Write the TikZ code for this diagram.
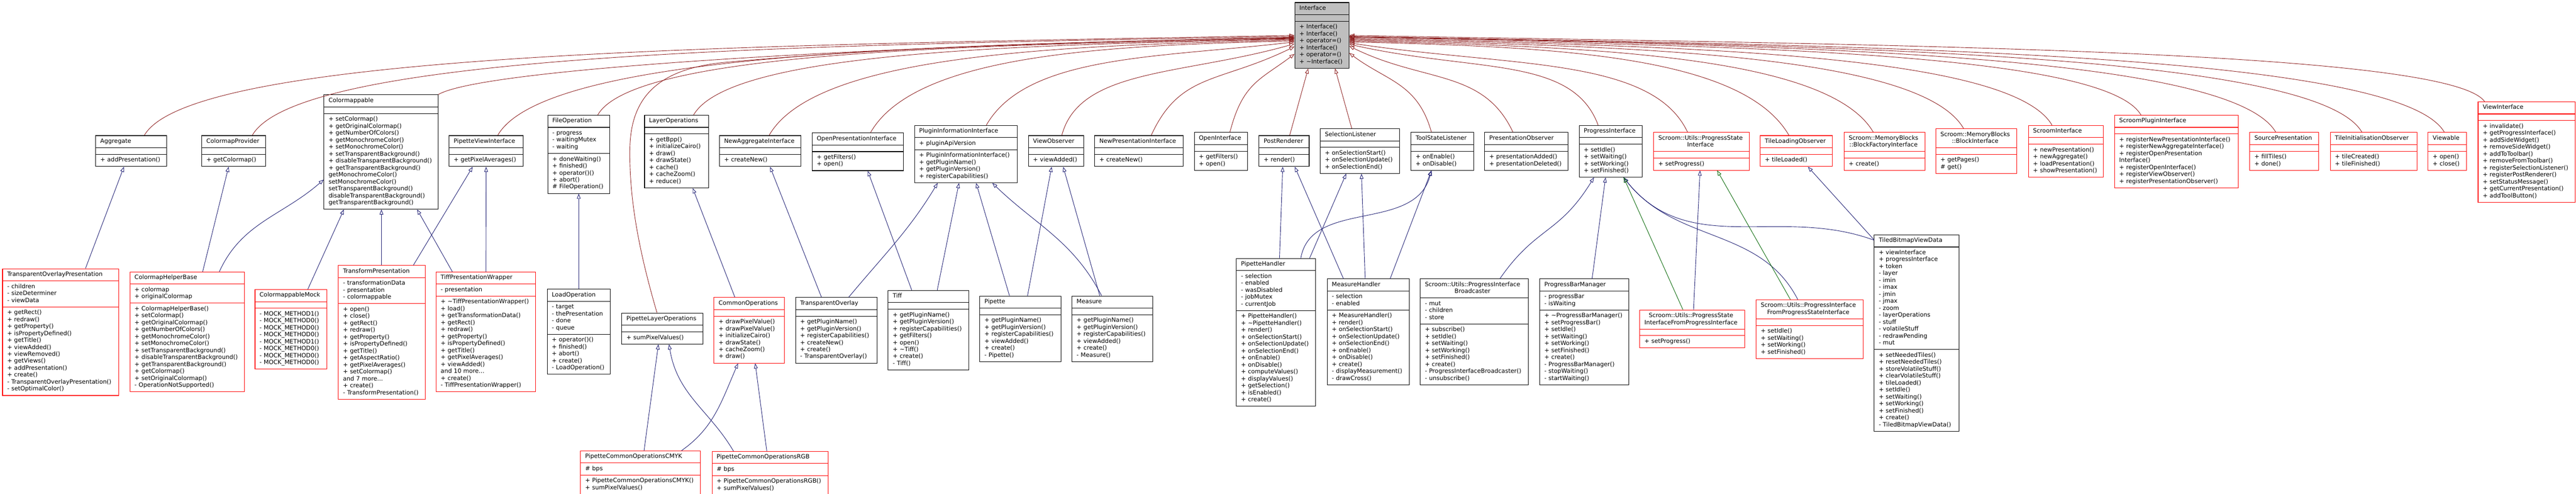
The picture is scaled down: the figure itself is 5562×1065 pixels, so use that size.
\documentclass[tikz,border=0pt]{standalone}
\usepackage{fontspec}
\setmainfont{DejaVu Sans}
\usetikzlibrary{shapes.multipart,arrows.meta}

\definecolor{privred}{HTML}{8B1A1A}
\definecolor{pubblue}{HTML}{191970}
\definecolor{protgreen}{HTML}{006400}

\newcommand{\umlfont}{\fontsize{12.8}{15}\selectfont}
\newcommand{\clsname}[1]{\noindent\centering\begin{tabular}{@{}c@{}}#1\end{tabular}}
\newcommand{\clsmembers}[1]{\noindent\begin{tabular}{@{}l@{}}#1\end{tabular}}

\begin{document}
\begin{tikzpicture}[x=1pt,y=1pt,
    cls/.style={rectangle split, rectangle split parts=3, draw=black, line width=1.2pt,
      anchor=north west, inner xsep=10pt, inner ysep=5pt, font=\umlfont, align=left},
    clsred/.style={cls, draw=red},
    pub/.style={draw=pubblue, line width=1pt, -{Triangle[open,length=11pt,width=8pt]}},
    prot/.style={pub, draw=protgreen},
    priv/.style={pub, draw=privred}]
    \useasboundingbox (0,0) rectangle (5562,-1065);

    % Base class
    \node[cls, fill=gray!50, text width=97pt] (iface) at (2795,-5)
      {\clsname{Interface}\nodepart{two}\clsmembers{}\nodepart{three}\clsmembers{+ Interface()\\+ Interface()\\+ operator=()\\+ Interface()\\+ operator=()\\+ \textasciitilde Interface()}};

    % Direct subclasses
    \node[cls, text width=133pt] (agg) at (206,-292)
      {\clsname{Aggregate}\nodepart{two}\clsmembers{}\nodepart{three}\clsmembers{+ addPresentation()}};
    \node[cls, text width=118pt] (cmprov) at (435,-292)
      {\clsname{ColormapProvider}\nodepart{two}\clsmembers{}\nodepart{three}\clsmembers{+ getColormap()}};
    \node[cls, text width=226pt] (cmapp) at (699,-204)
      {\clsname{Colormappable}\nodepart{two}\clsmembers{}\nodepart{three}\clsmembers{+ setColormap()\\+ getOriginalColormap()\\+ getNumberOfColors()\\+ getMonochromeColor()\\+ setMonochromeColor()\\+ setTransparentBackground()\\+ disableTransparentBackground()\\+ getTransparentBackground()\\* getMonochromeColor()\\* setMonochromeColor()\\* setTransparentBackground()\\* disableTransparentBackground()\\* getTransparentBackground()}};
    \node[cls, text width=140pt] (pvi) at (969,-292)
      {\clsname{PipetteViewInterface}\nodepart{two}\clsmembers{}\nodepart{three}\clsmembers{+ getPixelAverages()}};
    \node[cls, text width=114pt] (fileop) at (1182,-248)
      {\clsname{FileOperation}\nodepart{two}\clsmembers{- progress\\- waitingMutex\\- waiting}\nodepart{three}\clsmembers{+ doneWaiting()\\+ finished()\\+ operator()()\\+ abort()\\\# FileOperation()}};
    \node[cls, text width=118pt] (layerop) at (1391,-248)
      {\clsname{LayerOperations}\nodepart{two}\clsmembers{}\nodepart{three}\clsmembers{+ getBpp()\\+ initializeCairo()\\+ draw()\\+ drawState()\\+ cache()\\+ cacheZoom()\\+ reduce()}};
    \node[cls, text width=156pt] (newagg) at (1553,-292)
      {\clsname{NewAggregateInterface}\nodepart{two}\clsmembers{}\nodepart{three}\clsmembers{+ createNew()}};
    \node[cls, text width=177pt] (openpres) at (1753,-286)
      {\clsname{OpenPresentationInterface}\nodepart{two}\clsmembers{}\nodepart{three}\clsmembers{+ getFilters()\\+ open()}};
    \node[cls, text width=202pt] (pluginfo) at (1974,-270)
      {\clsname{PluginInformationInterface}\nodepart{two}\clsmembers{+ pluginApiVersion}\nodepart{three}\clsmembers{+ PluginInformationInterface()\\+ getPluginName()\\+ getPluginVersion()\\+ registerCapabilities()}};
    \node[cls, text width=99pt] (viewobs) at (2220,-292)
      {\clsname{ViewObserver}\nodepart{two}\clsmembers{}\nodepart{three}\clsmembers{+ viewAdded()}};
    \node[cls, text width=171pt] (newpres) at (2363,-292)
      {\clsname{NewPresentationInterface}\nodepart{two}\clsmembers{}\nodepart{three}\clsmembers{+ createNew()}};
    \node[cls, text width=95pt] (openif) at (2578,-285)
      {\clsname{OpenInterface}\nodepart{two}\clsmembers{}\nodepart{three}\clsmembers{+ getFilters()\\+ open()}};
    \node[cls, text width=88pt] (postrend) at (2718,-292)
      {\clsname{PostRenderer}\nodepart{two}\clsmembers{}\nodepart{three}\clsmembers{+ render()}};
    \node[cls, text width=151pt] (sellist) at (2850,-277)
      {\clsname{SelectionListener}\nodepart{two}\clsmembers{}\nodepart{three}\clsmembers{+ onSelectionStart()\\+ onSelectionUpdate()\\+ onSelectionEnd()}};
    \node[cls, text width=115pt] (toolstate) at (3046,-285)
      {\clsname{ToolStateListener}\nodepart{two}\clsmembers{}\nodepart{three}\clsmembers{+ onEnable()\\+ onDisable()}};
    \node[cls, text width=160pt] (presobs) at (3205,-285)
      {\clsname{PresentationObserver}\nodepart{two}\clsmembers{}\nodepart{three}\clsmembers{+ presentationAdded()\\+ presentationDeleted()}};
    \node[cls, text width=116pt] (progif) at (3409,-270)
      {\clsname{ProgressInterface}\nodepart{two}\clsmembers{}\nodepart{three}\clsmembers{+ setIdle()\\+ setWaiting()\\+ setWorking()\\+ setFinished()}};
    \node[clsred, text width=187pt] (progstate) at (3570,-285)
      {\clsname{Scroom::Utils::ProgressState\\Interface}\nodepart{two}\clsmembers{}\nodepart{three}\clsmembers{+ setProgress()}};
    \node[clsred, text width=136pt] (tileload) at (3800,-292)
      {\clsname{TileLoadingObserver}\nodepart{two}\clsmembers{}\nodepart{three}\clsmembers{+ tileLoaded()}};
    \node[clsred, text width=155pt] (blockfact) at (3981,-285)
      {\clsname{Scroom::MemoryBlocks\\::BlockFactoryInterface}\nodepart{two}\clsmembers{}\nodepart{three}\clsmembers{+ create()}};
    \node[clsred, text width=155pt] (blockif) at (4179,-277)
      {\clsname{Scroom::MemoryBlocks\\::BlockInterface}\nodepart{two}\clsmembers{}\nodepart{three}\clsmembers{+ getPages()\\\# get()}};
    \node[clsred, text width=142pt] (scroomif) at (4379,-270)
      {\clsname{ScroomInterface}\nodepart{two}\clsmembers{}\nodepart{three}\clsmembers{+ newPresentation()\\+ newAggregate()\\+ loadPresentation()\\+ showPresentation()}};
    \node[clsred, text width=247pt] (pluginif) at (4565,-248)
      {\clsname{ScroomPluginInterface}\nodepart{two}\clsmembers{}\nodepart{three}\clsmembers{+ registerNewPresentationInterface()\\+ registerNewAggregateInterface()\\+ registerOpenPresentation\\Interface()\\+ registerOpenInterface()\\+ registerViewObserver()\\+ registerPresentationObserver()}};
    \node[clsred, text width=129pt] (srcpres) at (4857,-285)
      {\clsname{SourcePresentation}\nodepart{two}\clsmembers{}\nodepart{three}\clsmembers{+ fillTiles()\\+ done()}};
    \node[clsred, text width=167pt] (tileinit) at (5031,-285)
      {\clsname{TileInitialisationObserver}\nodepart{two}\clsmembers{}\nodepart{three}\clsmembers{+ tileCreated()\\+ tileFinished()}};
    \node[clsred, text width=63pt] (viewable) at (5242,-285)
      {\clsname{Viewable}\nodepart{two}\clsmembers{}\nodepart{three}\clsmembers{+ open()\\+ close()}};
    \node[clsred, text width=190pt] (viewif) at (5350,-219)
      {\clsname{ViewInterface}\nodepart{two}\clsmembers{}\nodepart{three}\clsmembers{+ invalidate()\\+ getProgressInterface()\\+ addSideWidget()\\+ removeSideWidget()\\+ addToToolbar()\\+ removeFromToolbar()\\+ registerSelectionListener()\\+ registerPostRenderer()\\+ setStatusMessage()\\+ getCurrentPresentation()\\+ addToolButton()}};

    % Second level
    \node[clsred, text width=231pt] (topres) at (5,-579)
      {\clsname{TransparentOverlayPresentation}\nodepart{two}\clsmembers{- children\\- sizeDeterminer\\- viewData}\nodepart{three}\clsmembers{+ getRect()\\+ redraw()\\+ getProperty()\\+ isPropertyDefined()\\+ getTitle()\\+ viewAdded()\\+ viewRemoved()\\+ getViews()\\+ addPresentation()\\+ create()\\- TransparentOverlayPresentation()\\- setOptimalColor()}};
    \node[clsred, text width=227pt] (cmhelper) at (280,-586)
      {\clsname{ColormapHelperBase}\nodepart{two}\clsmembers{+ colormap\\+ originalColormap}\nodepart{three}\clsmembers{+ ColormapHelperBase()\\+ setColormap()\\+ getOriginalColormap()\\+ getNumberOfColors()\\+ getMonochromeColor()\\+ setMonochromeColor()\\+ setTransparentBackground()\\+ disableTransparentBackground()\\+ getTransparentBackground()\\+ getColormap()\\+ setOriginalColormap()\\- OperationNotSupported()}};
    \node[clsred, text width=135pt] (cmmock) at (550,-624)
      {\clsname{ColormappableMock}\nodepart{two}\clsmembers{}\nodepart{three}\clsmembers{- MOCK\_METHOD1()\\- MOCK\_METHOD0()\\- MOCK\_METHOD0()\\- MOCK\_METHOD0()\\- MOCK\_METHOD1()\\- MOCK\_METHOD0()\\- MOCK\_METHOD0()\\- MOCK\_METHOD0()}};
    \node[clsred, text width=168pt] (transpres) at (730,-572)
      {\clsname{TransformPresentation}\nodepart{two}\clsmembers{- transformationData\\- presentation\\- colormappable}\nodepart{three}\clsmembers{+ open()\\+ close()\\+ getRect()\\+ redraw()\\+ getProperty()\\+ isPropertyDefined()\\+ getTitle()\\+ getAspectRatio()\\+ getPixelAverages()\\+ setColormap()\\and 7 more...\\+ create()\\- TransformPresentation()}};
    \node[clsred, text width=195pt] (tiffwrap) at (941,-586)
      {\clsname{TiffPresentationWrapper}\nodepart{two}\clsmembers{- presentation}\nodepart{three}\clsmembers{+ \textasciitilde TiffPresentationWrapper()\\+ load()\\+ getTransformationData()\\+ getRect()\\+ redraw()\\+ getProperty()\\+ isPropertyDefined()\\+ getTitle()\\+ getPixelAverages()\\+ viewAdded()\\and 10 more...\\+ create()\\- TiffPresentationWrapper()}};
    \node[cls, text width=116pt] (loadop) at (1181,-623)
      {\clsname{LoadOperation}\nodepart{two}\clsmembers{- target\\- thePresentation\\- done\\- queue}\nodepart{three}\clsmembers{+ operator()()\\+ finished()\\+ abort()\\+ create()\\- LoadOperation()}};
    \node[cls, text width=155pt] (pipelayer) at (1342,-675)
      {\clsname{PipetteLayerOperations}\nodepart{two}\clsmembers{}\nodepart{three}\clsmembers{+ sumPixelValues()}};
    \node[clsred, text width=132pt] (commonop) at (1541,-641)
      {\clsname{CommonOperations}\nodepart{two}\clsmembers{}\nodepart{three}\clsmembers{+ drawPixelValue()\\+ drawPixelValue()\\+ initializeCairo()\\+ drawState()\\+ cacheZoom()\\+ draw()}};
    \node[cls, text width=156pt] (toverlay) at (1717,-641)
      {\clsname{TransparentOverlay}\nodepart{two}\clsmembers{}\nodepart{three}\clsmembers{+ getPluginName()\\+ getPluginVersion()\\+ registerCapabilities()\\+ createNew()\\+ create()\\- TransparentOverlay()}};
    \node[cls, text width=154pt] (tiff) at (1917,-626)
      {\clsname{Tiff}\nodepart{two}\clsmembers{}\nodepart{three}\clsmembers{+ getPluginName()\\+ getPluginVersion()\\+ registerCapabilities()\\+ getFilters()\\+ open()\\+ \textasciitilde Tiff()\\+ create()\\- Tiff()}};
    \node[cls, text width=155pt] (pipette) at (2115,-638)
      {\clsname{Pipette}\nodepart{two}\clsmembers{}\nodepart{three}\clsmembers{+ getPluginName()\\+ getPluginVersion()\\+ registerCapabilities()\\+ viewAdded()\\+ create()\\- Pipette()}};
    \node[cls, text width=154pt] (measure) at (2314,-638)
      {\clsname{Measure}\nodepart{two}\clsmembers{}\nodepart{three}\clsmembers{+ getPluginName()\\+ getPluginVersion()\\+ registerCapabilities()\\+ viewAdded()\\+ create()\\- Measure()}};
    \node[cls, text width=151pt] (pipehandler) at (2669,-557)
      {\clsname{PipetteHandler}\nodepart{two}\clsmembers{- selection\\- enabled\\- wasDisabled\\- jobMutex\\- currentJob}\nodepart{three}\clsmembers{+ PipetteHandler()\\+ \textasciitilde PipetteHandler()\\+ render()\\+ onSelectionStart()\\+ onSelectionUpdate()\\+ onSelectionEnd()\\+ onEnable()\\+ onDisable()\\+ computeValues()\\+ displayValues()\\+ getSelection()\\+ isEnabled()\\+ create()}};
    \node[cls, text width=157pt] (measurehandler) at (2865,-601)
      {\clsname{MeasureHandler}\nodepart{two}\clsmembers{- selection\\- enabled}\nodepart{three}\clsmembers{+ MeasureHandler()\\+ render()\\+ onSelectionStart()\\+ onSelectionUpdate()\\+ onSelectionEnd()\\+ onEnable()\\+ onDisable()\\+ create()\\- displayMeasurement()\\- drawCross()}};
    \node[cls, text width=213pt] (broadcaster) at (3066,-601)
      {\clsname{Scroom::Utils::ProgressInterface\\Broadcaster}\nodepart{two}\clsmembers{- mut\\- children\\- store}\nodepart{three}\clsmembers{+ subscribe()\\+ setIdle()\\+ setWaiting()\\+ setWorking()\\+ setFinished()\\+ create()\\- ProgressInterfaceBroadcaster()\\- unsubscribe()}};
    \node[cls, text width=172pt] (pbarmgr) at (3324,-601)
      {\clsname{ProgressBarManager}\nodepart{two}\clsmembers{- progressBar\\- isWaiting}\nodepart{three}\clsmembers{+ \textasciitilde ProgressBarManager()\\+ setProgressBar()\\+ setIdle()\\+ setWaiting()\\+ setWorking()\\+ setFinished()\\+ create()\\- ProgressBarManager()\\- stopWaiting()\\- startWaiting()}};
    \node[clsred, text width=206pt] (psifpi) at (3540,-668)
      {\clsname{Scroom::Utils::ProgressState\\InterfaceFromProgressInterface}\nodepart{two}\clsmembers{}\nodepart{three}\clsmembers{+ setProgress()}};
    \node[clsred, text width=211pt] (pifpsi) at (3791,-646)
      {\clsname{Scroom::Utils::ProgressInterface\\FromProgressStateInterface}\nodepart{two}\clsmembers{}\nodepart{three}\clsmembers{+ setIdle()\\+ setWaiting()\\+ setWorking()\\+ setFinished()}};
    \node[cls, text width=163pt] (tbvd) at (4046,-506)
      {\clsname{TiledBitmapViewData}\nodepart{two}\clsmembers{+ viewInterface\\+ progressInterface\\+ token\\- layer\\- imin\\- imax\\- jmin\\- jmax\\- zoom\\- layerOperations\\- stuff\\- volatileStuff\\- redrawPending\\- mut}\nodepart{three}\clsmembers{+ setNeededTiles()\\+ resetNeededTiles()\\+ storeVolatileStuff()\\+ clearVolatileStuff()\\+ tileLoaded()\\+ setIdle()\\+ setWaiting()\\+ setWorking()\\+ setFinished()\\+ create()\\- TiledBitmapViewData()}};

    % Third level
    \node[clsred, text width=239pt] (pcmyk) at (1253,-972)
      {\clsname{PipetteCommonOperationsCMYK}\nodepart{two}\clsmembers{\# bps}\nodepart{three}\clsmembers{+ PipetteCommonOperationsCMYK()\\+ sumPixelValues()}};
    \node[clsred, text width=231pt] (prgb) at (1537,-973)
      {\clsname{PipetteCommonOperationsRGB}\nodepart{two}\clsmembers{\# bps}\nodepart{three}\clsmembers{+ PipetteCommonOperationsRGB()\\+ sumPixelValues()}};

    % Private inheritance from Interface, left side
    \draw[priv] ([xshift=28.5]agg.north) .. controls (417,-108) and (1677,-97) .. (iface.west);
    \draw[priv] ([xshift=40]cmprov.north) .. controls (649,-110) and (1782,-97) .. ([yshift=-2]iface.west);
    \draw[priv] (cmapp.north east) .. controls (1049,-144) and (1965,-96) .. ([yshift=-4]iface.west);
    \draw[priv] ([xshift=25]pvi.north) .. controls (1177,-113) and (2021,-97) .. ([yshift=-5]iface.west);
    \draw[priv] ([xshift=41]fileop.north) .. controls (1370,-109) and (2118,-97) .. ([yshift=-7]iface.west);
    \draw[priv] ([xshift=-11.5]pipelayer.north) .. controls (1385,-560) and (1358,-440) .. (1360,-320)
      .. controls (1362,-210) and (1420,-150) .. (1560,-135)
      .. controls (2000,-95) and (2500,-86) .. ([yshift=-6]iface.west);
    \draw[priv] ([xshift=37]layerop.north) .. controls (1577,-110) and (2211,-97) .. ([yshift=-8]iface.west);
    \draw[priv] ([xshift=19]newagg.north) .. controls (1761,-117) and (2285,-98) .. ([yshift=-10]iface.west);
    \draw[priv] ([xshift=27.5]openpres.north) .. controls (1976,-118) and (2383,-98) .. ([yshift=-12]iface.west);
    \draw[priv] ([xshift=44]pluginfo.north) .. controls (2217,-118) and (2500,-125) .. ([yshift=-14]iface.west);
    \draw[priv] ([xshift=12.5]viewobs.north) .. controls (2331,-147) and (2553,-163) .. ([yshift=-18]iface.west);
    \draw[priv] ([xshift=26.5]newpres.north) .. controls (2548,-156) and (2632,-180) .. ([yshift=-24]iface.west);
    \draw[priv] ([xshift=19.5]openif.north) .. controls (2683,-179) and (2721,-172) .. ([yshift=-40]iface.west);
    \draw[priv] ([xshift=12]postrend.north) -- ([xshift=-29.5]iface.south);

    % Private inheritance from Interface, right side
    \draw[priv] ([xshift=-17.5]sellist.north) -- ([xshift=28.5]iface.south);
    \draw[priv] ([xshift=-23.5]toolstate.north) .. controls (3061,-179) and (2994,-175) .. ([yshift=-38]iface.east);
    \draw[priv] ([xshift=-29]presobs.north) .. controls (3203,-149) and (3075,-179) .. ([yshift=-23]iface.east);
    \draw[priv] ([xshift=-27]progif.north) .. controls (3395,-120) and (3186,-157) .. ([yshift=-19]iface.east);
    \draw[priv] ([xshift=-30.5]progstate.north) .. controls (3567,-122) and (3259,-145) .. ([yshift=-16]iface.east);
    \draw[priv] ([xshift=-16]tileload.north) .. controls (3763,-120) and (3364,-101) .. ([yshift=-14]iface.east);
    \draw[priv] ([xshift=-24.5]blockfact.north) .. controls (3947,-118) and (3422,-100) .. ([yshift=-12]iface.east);
    \draw[priv] ([xshift=-27.5]blockif.north) .. controls (4145,-115) and (3509,-99) .. ([yshift=-10]iface.east);
    \draw[priv] ([xshift=-30]scroomif.north) .. controls (4339,-112) and (3595,-98) .. ([yshift=-8]iface.east);
    \draw[priv] ([xshift=-76.5]pluginif.north) .. controls (4541,-108) and (3682,-98) .. ([yshift=-6]iface.east);
    \draw[priv] ([xshift=-18.5]srcpres.north) .. controls (4812,-111) and (3812,-97) .. ([yshift=-4]iface.east);
    \draw[priv] ([xshift=-25.5]tileinit.north) .. controls (4998,-110) and (3896,-98) .. ([yshift=-3]iface.east);
    \draw[priv] ([xshift=-6.5]viewable.north) .. controls (5175,-109) and (3976,-98) .. ([yshift=-2]iface.east);
    \draw[priv] ([xshift=-91]viewif.north) .. controls (5284,-105) and (4012,-96) .. (iface.east);

    % Public inheritance
    \draw[pub] ([xshift=53.5]topres.north) -- ([xshift=-15.5]agg.south);
    \draw[pub] ([xshift=33.5]cmhelper.north) -- ([xshift=-11]cmprov.south);
    \draw[pub] ([xshift=69.5]cmhelper.north) .. controls (522,-480) and (609,-466) .. ([yshift=-59.5]cmapp.west);
    \draw[pub] ([xshift=36.5]cmmock.north) -- ([xshift=-80]cmapp.south);
    \draw[pub] ([xshift=-1]transpres.north) -- ([xshift=1]cmapp.south);
    \draw[pub] ([xshift=-72.5]tiffwrap.north) -- ([xshift=78]cmapp.south);
    \draw[pub] ([xshift=68]transpres.north) -- ([xshift=-29]pvi.south);
    \draw[pub] (tiffwrap.north) -- (pvi.south);
    \draw[pub] (loadop.north) -- (fileop.south);
    \draw[pub] ([xshift=-31]commonop.north) -- ([xshift=35]layerop.south);
    \draw[pub] ([xshift=7.5]pcmyk.north) -- ([xshift=-8.5]pipelayer.south);
    \draw[pub] ([xshift=88.5]pcmyk.north) .. controls (1541,-923) and (1557,-868) .. ([xshift=-24]commonop.south);
    \draw[pub] ([xshift=-79.5]prgb.north) .. controls (1532,-885) and (1462,-852) .. ([xshift=14.5]pipelayer.south);
    \draw[pub] ([xshift=-7.5]prgb.north) -- ([xshift=13]commonop.south);
    \draw[pub] ([xshift=-32]toverlay.north) -- ([xshift=21]newagg.south);
    \draw[pub] ([xshift=27]toverlay.north) .. controls (1911,-547) and (1962,-498) .. ([xshift=-61]pluginfo.south);
    \draw[pub] ([xshift=19]tiff.north) -- ([xshift=-15]pluginfo.south);
    \draw[pub] ([xshift=-36]tiff.north) -- ([xshift=21.5]openpres.south);
    \draw[pub] ([xshift=-23.5]pipette.north) -- ([xshift=22]pluginfo.south);
    \draw[pub] ([xshift=15.5]pipette.north) -- ([xshift=-9.5]viewobs.south);
    \draw[pub] ([xshift=-23]measure.north) .. controls (2317,-519) and (2237,-486) .. ([xshift=57]pluginfo.south);
    \draw[pub] ([xshift=-27]measure.north) -- ([xshift=15.5]viewobs.south);
    \draw[pub] ([xshift=7.5]pipehandler.north) -- ([xshift=-3]postrend.south);
    \draw[pub] ([xshift=72.5]pipehandler.north) -- ([xshift=-29.5]sellist.south);
    \draw[pub] ([xshift=53.5]pipehandler.north) .. controls (2831,-428) and (3056,-503) .. ([xshift=-23.5]toolstate.south);
    \draw[pub] ([xshift=-53.5]measurehandler.north) -- ([xshift=23]postrend.south);
    \draw[pub] ([xshift=-6.5]measurehandler.north) -- ([xshift=3.5]sellist.south);
    \draw[pub] ([xshift=47.5]measurehandler.north) -- ([xshift=-23.5]toolstate.south);
    \draw[pub] ([xshift=55.5]broadcaster.north) .. controls (3317,-488) and (3366,-506) .. ([xshift=-36]progif.south);
    \draw[pub] ([xshift=17]pbarmgr.north) -- ([xshift=-11]progif.south);
    \draw[pub] ([xshift=3]psifpi.north) -- ([xshift=-3.5]progstate.south);
    \draw[pub] ([xshift=-25.5]pifpsi.north) .. controls (3800,-488) and (3619,-527) .. ([xshift=28]progif.south);
    \draw[pub] ([yshift=-12]tbvd.north west) .. controls (3841,-443) and (3645,-558) .. ([xshift=28]progif.south);
    \draw[pub] ([yshift=-11]tbvd.north west) -- ([xshift=25]tileload.south);

    % Protected inheritance
    \draw[prot] ([xshift=-20]psifpi.north) -- ([xshift=28]progif.south);
    \draw[prot] ([xshift=-41.5]pifpsi.north) -- ([xshift=33.5]progstate.south);
\end{tikzpicture}
\end{document}
